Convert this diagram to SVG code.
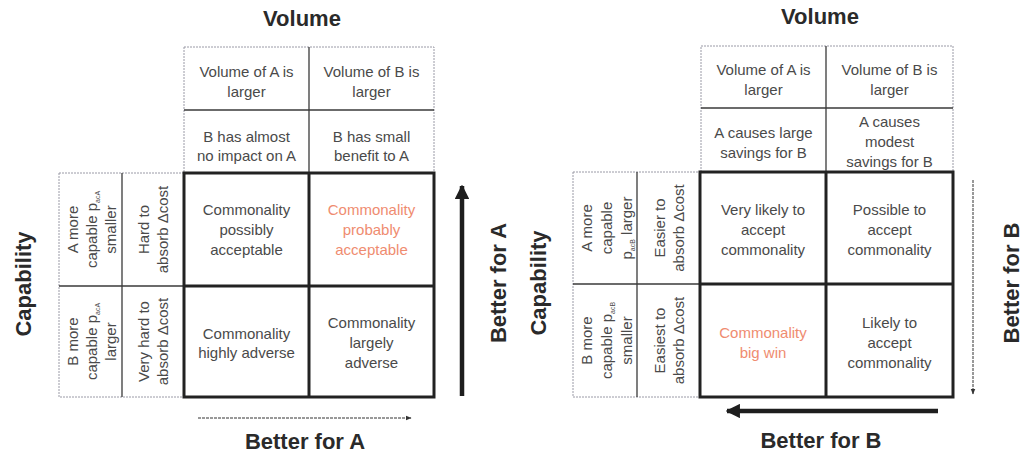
<svg xmlns="http://www.w3.org/2000/svg" width="1022" height="456" viewBox="0 0 1022 456">
  <style>
    .head { font-family: "Liberation Sans", Arial, sans-serif; font-size: 22px; font-weight: bold; fill: #2a2a2a; text-anchor: middle; }
    .body { font-family: "Liberation Sans", Arial, sans-serif; font-size: 15px; fill: #4a4a4a; text-anchor: middle; }
    .hot { fill: #ef8c70; }
    .sub { font-size: 7px; }
    .lite { fill: none; stroke: #9a9aa6; stroke-width: 1; stroke-dasharray: 2 1; }
    .div { fill: none; stroke: #3a3a3a; stroke-width: 1.3; }
    .grid { fill: none; stroke: #222; stroke-width: 3; }
    .thick { fill: none; stroke: #1e1e1e; stroke-width: 4.5; }
    .thin { fill: none; stroke: #333; stroke-width: 1; stroke-dasharray: 3 1; }
  </style>
  <defs>
    <marker id="bighead" viewBox="0 0 10 10" refX="9" refY="5" markerWidth="3.2" markerHeight="3.2" orient="auto" markerUnits="strokeWidth">
      <path d="M0,0 L10,5 L0,10 Z" fill="#1e1e1e"/>
    </marker>
    <marker id="smallhead" viewBox="0 0 10 10" refX="9" refY="5" markerWidth="6" markerHeight="6" orient="auto" markerUnits="strokeWidth">
      <path d="M0,1 L10,5 L0,9 Z" fill="#333"/>
    </marker>
  </defs>

  <!-- ===== Left matrix: outcome for A ===== -->
  <g id="left-titles">
    <text class="head" x="302" y="26">Volume</text>
    <text class="head" x="305" y="449">Better for A</text>
    <text class="head" transform="translate(31 284) rotate(-90)" x="0" y="0">Capability</text>
    <text class="head" transform="translate(506 283) rotate(-90)" x="0" y="0">Better for A</text>
  </g>

  <g id="left-header">
    <rect class="lite" x="184" y="47" width="250" height="126"/>
    <line class="div" x1="309" y1="47" x2="309" y2="173"/>
    <line class="div" x1="184" y1="110" x2="434" y2="110"/>
    <text class="body" x="246.5" y="77">Volume of A is</text>
    <text class="body" x="246.5" y="97">larger</text>
    <text class="body" x="371.5" y="77">Volume of B is</text>
    <text class="body" x="371.5" y="97">larger</text>
    <text class="body" x="246.5" y="142">B has almost</text>
    <text class="body" x="246.5" y="161">no impact on A</text>
    <text class="body" x="371.5" y="142">B has small</text>
    <text class="body" x="371.5" y="161">benefit to A</text>
  </g>

  <g id="left-side">
    <rect class="lite" x="59" y="173" width="125" height="224"/>
    <line class="div" x1="122" y1="173" x2="122" y2="397"/>
    <line class="div" x1="59" y1="286" x2="184" y2="286"/>
    <g transform="translate(92 229.5) rotate(-90)">
      <text class="body" x="0" y="-14">A more</text>
      <text class="body" x="0" y="5">capable p<tspan class="sub" dy="3">acA</tspan></text>
      <text class="body" x="0" y="24">smaller</text>
    </g>
    <g transform="translate(92 341.5) rotate(-90)">
      <text class="body" x="0" y="-14">B more</text>
      <text class="body" x="0" y="5">capable p<tspan class="sub" dy="3">acA</tspan></text>
      <text class="body" x="0" y="24">larger</text>
    </g>
    <g transform="translate(153.5 229.5) rotate(-90)">
      <text class="body" x="0" y="-4.5">Hard to</text>
      <text class="body" x="0" y="14.5">absorb Δcost</text>
    </g>
    <g transform="translate(153.5 341.5) rotate(-90)">
      <text class="body" x="0" y="-4.5">Very hard to</text>
      <text class="body" x="0" y="14.5">absorb Δcost</text>
    </g>
  </g>

  <g id="left-grid">
    <rect class="grid" x="184" y="173" width="250" height="224"/>
    <line class="grid" x1="309" y1="173" x2="309" y2="397"/>
    <line class="grid" x1="184" y1="286" x2="434" y2="286"/>
  </g>

  <g id="left-q11">
    <text class="body" x="246.5" y="215">Commonality</text>
    <text class="body" x="246.5" y="235">possibly</text>
    <text class="body" x="246.5" y="255">acceptable</text>
  </g>
  <g id="left-q12">
    <text class="body hot" x="371.5" y="215">Commonality</text>
    <text class="body hot" x="371.5" y="235">probably</text>
    <text class="body hot" x="371.5" y="255">acceptable</text>
  </g>
  <g id="left-q21">
    <text class="body" x="246.5" y="339">Commonality</text>
    <text class="body" x="246.5" y="358">highly adverse</text>
  </g>
  <g id="left-q22">
    <text class="body" x="371.5" y="328">Commonality</text>
    <text class="body" x="371.5" y="348">largely</text>
    <text class="body" x="371.5" y="368">adverse</text>
  </g>

  <!-- ===== Right matrix: outcome for B ===== -->
  <g id="right-titles">
    <text class="head" x="820" y="24">Volume</text>
    <text class="head" x="821" y="448">Better for B</text>
    <text class="head" transform="translate(546 283) rotate(-90)" x="0" y="0">Capability</text>
    <text class="head" transform="translate(1019 283) rotate(-90)" x="0" y="0">Better for B</text>
  </g>

  <g id="right-header">
    <rect class="lite" x="701" y="46" width="252" height="126"/>
    <line class="div" x1="826" y1="46" x2="826" y2="172"/>
    <line class="div" x1="701" y1="108" x2="953" y2="108"/>
    <text class="body" x="763.5" y="75">Volume of A is</text>
    <text class="body" x="763.5" y="95">larger</text>
    <text class="body" x="889.5" y="75">Volume of B is</text>
    <text class="body" x="889.5" y="95">larger</text>
    <text class="body" x="763.5" y="138">A causes large</text>
    <text class="body" x="763.5" y="158">savings for B</text>
    <text class="body" x="889.5" y="127">A causes</text>
    <text class="body" x="889.5" y="147">modest</text>
    <text class="body" x="889.5" y="167">savings for B</text>
  </g>

  <g id="right-side">
    <rect class="lite" x="573" y="172" width="127" height="225"/>
    <line class="div" x1="637" y1="172" x2="637" y2="397"/>
    <line class="div" x1="573" y1="284" x2="700" y2="284"/>
    <g transform="translate(607 228) rotate(-90)">
      <text class="body" x="0" y="-15">A more</text>
      <text class="body" x="0" y="5">capable</text>
      <text class="body" x="0" y="25">p<tspan class="sub" dy="3">acB</tspan><tspan dy="-3"> larger</tspan></text>
    </g>
    <g transform="translate(607 340.5) rotate(-90)">
      <text class="body" x="0" y="-15">B more</text>
      <text class="body" x="0" y="5">capable p<tspan class="sub" dy="3">acB</tspan></text>
      <text class="body" x="0" y="25">smaller</text>
    </g>
    <g transform="translate(669.5 228) rotate(-90)">
      <text class="body" x="0" y="-4.5">Easier to</text>
      <text class="body" x="0" y="14.5">absorb Δcost</text>
    </g>
    <g transform="translate(669.5 340.5) rotate(-90)">
      <text class="body" x="0" y="-4.5">Easiest to</text>
      <text class="body" x="0" y="14.5">absorb Δcost</text>
    </g>
  </g>

  <g id="right-grid">
    <rect class="grid" x="700" y="172" width="253" height="225"/>
    <line class="grid" x1="826" y1="172" x2="826" y2="397"/>
    <line class="grid" x1="700" y1="284" x2="953" y2="284"/>
  </g>

  <g id="right-q11">
    <text class="body" x="763" y="215">Very likely to</text>
    <text class="body" x="763" y="235">accept</text>
    <text class="body" x="763" y="255">commonality</text>
  </g>
  <g id="right-q12">
    <text class="body" x="889.5" y="215">Possible to</text>
    <text class="body" x="889.5" y="235">accept</text>
    <text class="body" x="889.5" y="255">commonality</text>
  </g>
  <g id="right-q21">
    <text class="body hot" x="763" y="338">Commonality</text>
    <text class="body hot" x="763" y="358">big win</text>
  </g>
  <g id="right-q22">
    <text class="body" x="889.5" y="328">Likely to</text>
    <text class="body" x="889.5" y="348">accept</text>
    <text class="body" x="889.5" y="368">commonality</text>
  </g>

  <!-- direction arrows -->
  <g id="connectors">
    <line class="thick" x1="462" y1="396" x2="462" y2="186" marker-end="url(#bighead)"/>
    <line class="thin" x1="198" y1="418" x2="411" y2="418" marker-end="url(#smallhead)"/>
    <line class="thin" x1="973" y1="180" x2="973" y2="394" marker-end="url(#smallhead)"/>
    <line class="thick" x1="938" y1="411" x2="727" y2="411" marker-end="url(#bighead)"/>
  </g>
</svg>
